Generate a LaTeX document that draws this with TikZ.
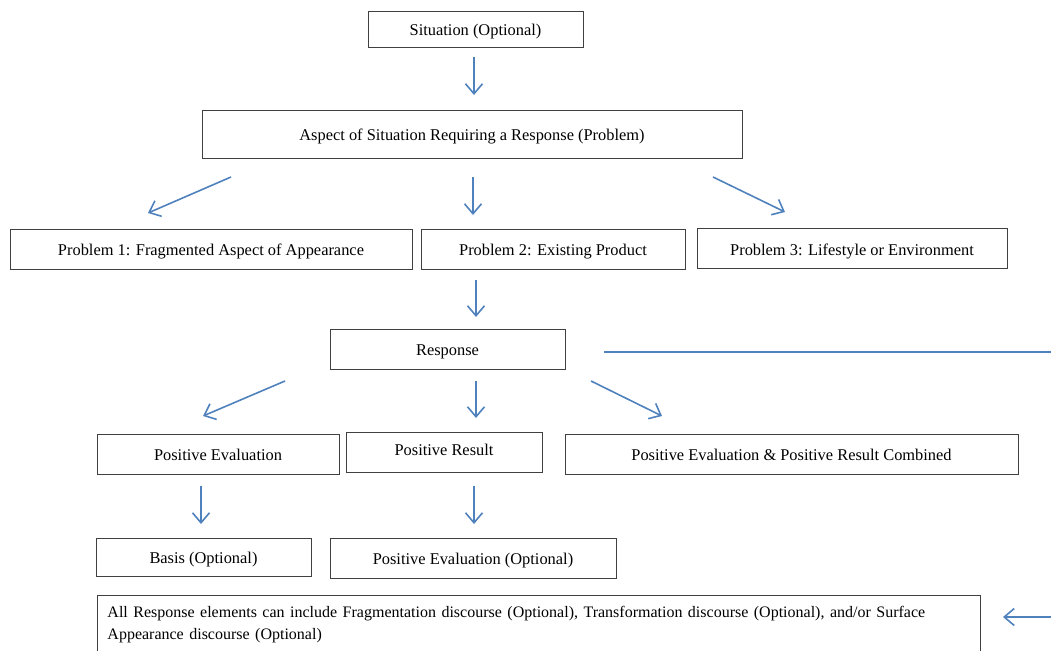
\documentclass[tikz,border=0pt]{standalone}
\usepackage{fontspec}
\setmainfont{Liberation Serif}
\usetikzlibrary{arrows.meta}
\tikzstyle{box} = [rectangle, draw=black!75, line width=0.9pt, inner sep=0pt, text centered, text height=13pt, text depth=0pt, font=\fontsize{16.4}{22}\selectfont]
\tikzstyle{arrow} = [draw={rgb,255:red,79;green,129;blue,189}, line width=1.6pt, -{Straight Barb[length=10pt,width=17pt,line width=1.6pt]}]
\tikzstyle{line} = [draw={rgb,255:red,79;green,129;blue,189}, line width=1.6pt]
\begin{document}
\begin{tikzpicture}[x=1pt, y=-1pt]
\useasboundingbox (0,0) rectangle (1051,650);
\clip (0,0) rectangle (1051,650);
% boxes
\node (sit) [box, minimum width=215pt, minimum height=36pt] at (475.5,29) {Situation (Optional)};
\node (asp) [box, minimum width=540pt, minimum height=48pt] at (472,134) {Aspect of Situation Requiring a Response (Problem)};
\node (pr1) [box, minimum width=402pt, minimum height=40pt] at (211,249) {Problem 1: Fragmented\ Aspect of Appearance};
\node (pr2) [box, minimum width=264pt, minimum height=40pt] at (553,249) {Problem 2: Existing Product};
\node (pr3) [box, minimum width=310pt, minimum height=40pt] at (852,248.5) {Problem 3: Lifestyle or Environment};
\node (resp) [box, minimum width=235pt, minimum height=40pt] at (447.5,349) {Response};
\node (peval) [box, minimum width=242pt, minimum height=40pt] at (218,454) {Positive Evaluation};
\node (pres) [box, minimum width=196pt, minimum height=40pt, text height=10pt, text depth=3pt] at (444,452) {Positive Result};
\node (comb) [box, minimum width=453pt, minimum height=40pt] at (791.5,454) {Positive Evaluation \& Positive Result Combined};
\node (basis) [box, minimum width=215pt, minimum height=38pt] at (203.5,557) {Basis (Optional)};
\node (peopt) [box, minimum width=286pt, minimum height=40pt] at (473,558) {Positive Evaluation (Optional)};
\node (all) [box, text height=, text depth=, anchor=north west, minimum width=883pt, text width=863pt, align=left, inner xsep=10pt, inner ysep=11pt] at (97,595) {\fontsize{16}{22}\selectfont All Response elements can include Fragmentation discourse (Optional), Transformation discourse (Optional), and/or Surface\\ Appearance discourse (Optional)\\[20pt]\mbox{}};

% arrow ends
\coordinate (a1s) at (474,57);  \coordinate (a1e) at (474,95);
\coordinate (a2s) at (231,177); \coordinate (a2e) at (148,213);
\coordinate (a3s) at (473,177); \coordinate (a3e) at (473,215);
\coordinate (a4s) at (713,177); \coordinate (a4e) at (785,212);
\coordinate (a5s) at (476,280); \coordinate (a5e) at (476,317);
\coordinate (l1s) at (604,352); \coordinate (l1e) at (1051,352);
\coordinate (a6s) at (285,381); \coordinate (a6e) at (203,416);
\coordinate (a7s) at (476,381); \coordinate (a7e) at (476,418);
\coordinate (a8s) at (591,381); \coordinate (a8e) at (662,416);
\coordinate (a9s) at (201,486); \coordinate (a9e) at (201,524);
\coordinate (a10s) at (474,486); \coordinate (a10e) at (474,524);
\coordinate (a11s) at (1051,617); \coordinate (a11e) at (1003,617);

\draw [arrow](a1s) -- (a1e);
\draw [arrow](a2s) -- (a2e);
\draw [arrow](a3s) -- (a3e);
\draw [arrow](a4s) -- (a4e);
\draw [arrow](a5s) -- (a5e);
\draw [line](l1s) -- (l1e);
\draw [arrow](a6s) -- (a6e);
\draw [arrow](a7s) -- (a7e);
\draw [arrow](a8s) -- (a8e);
\draw [arrow](a9s) -- (a9e);
\draw [arrow](a10s) -- (a10e);
\draw [arrow](a11s) -- (a11e);
\end{tikzpicture}
\end{document}
